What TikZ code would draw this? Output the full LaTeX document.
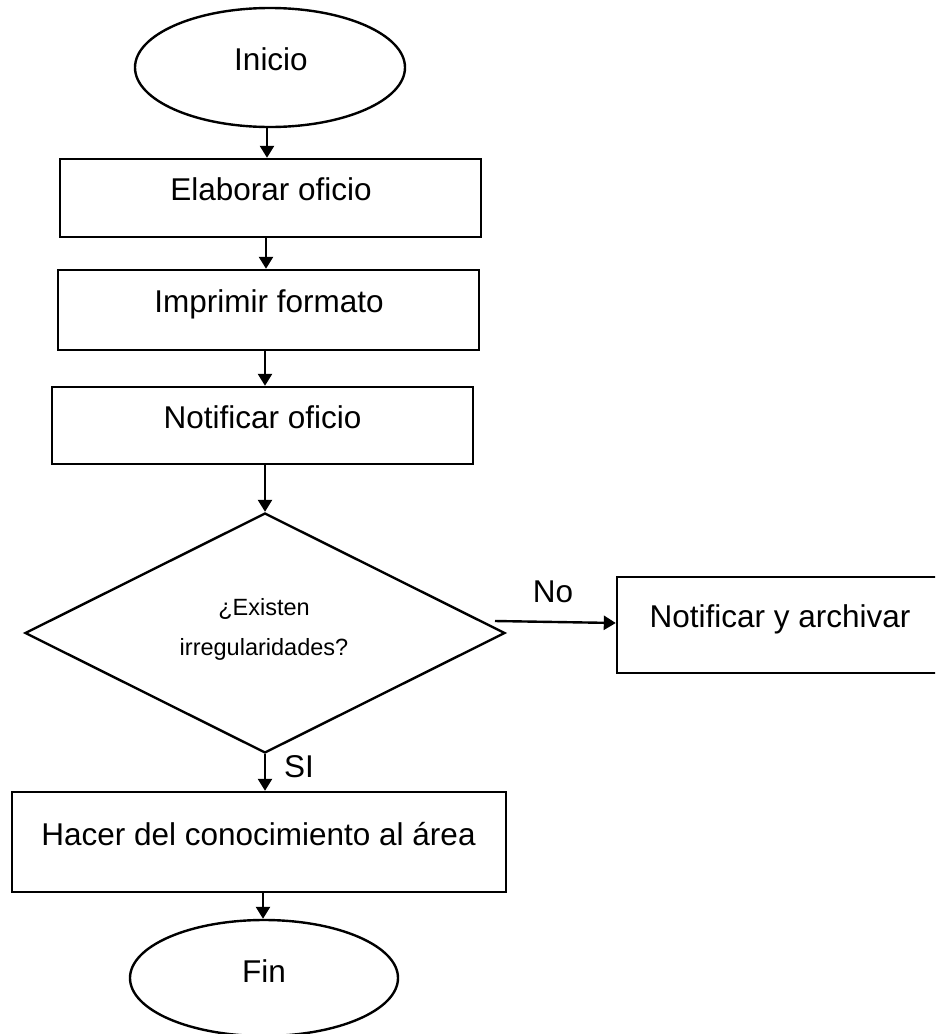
\documentclass[tikz,border=0pt]{standalone}
\usepackage{fontspec}
\setmainfont{Liberation Sans}
\usetikzlibrary{shapes.geometric,arrows.meta}
\begin{document}
\begin{tikzpicture}[x=1pt,y=-1pt,
  shp/.style={draw=black,line width=2.4pt,inner sep=0pt,fill=white},
  procbox/.style={shp,rectangle},
  termin/.style={shp,ellipse},
  decis/.style={shp,diamond},
  big/.style={font=\fontsize{31.5}{36}\selectfont,anchor=base,inner sep=0pt},
  small/.style={font=\fontsize{23.5}{28}\selectfont,anchor=base,inner sep=0pt},
  arr/.style={line width=2.4pt,-{Triangle[length=12pt,width=14pt]}},
  ln/.style={line width=2.4pt}]
\useasboundingbox (0,0) rectangle (935,1034);
\clip (0,0) rectangle (935,1034);
\fill[white] (0,0) rectangle (935,1034);

% shapes
\node[termin,minimum width=270pt,minimum height=119pt] (inicio) at (270,67.5) {};
\node[procbox,minimum width=421pt,minimum height=78pt] (elab) at (270.5,198) {};
\node[procbox,minimum width=421pt,minimum height=80pt] (impr) at (268.5,310) {};
\node[procbox,minimum width=421pt,minimum height=77pt] (notif) at (262.5,425.5) {};
\node[decis,minimum width=480pt,minimum height=240pt] (dec) at (265,633) {};
\node[procbox,minimum width=325pt,minimum height=96pt] (narch) at (779.5,625) {};
\node[procbox,minimum width=494pt,minimum height=100pt] (hacer) at (259,842) {};
\node[termin,minimum width=268pt,minimum height=116pt] (fin) at (264,978) {};

% texts
\node[big] (tinicio) at (271,70) {Inicio};
\node[big] (telab) at (271,200) {Elaborar oficio};
\node[big] (timpr) at (269,312) {Imprimir formato};
\node[big] (tnotif) at (262.5,428) {Notificar oficio};
\node[small] (tq1) at (264,615) {¿Existen};
\node[small] (tq2) at (264,655) {irregularidades?};
\node[big] (tnarch) at (780,627) {Notificar y archivar};
\node[big] (thacer) at (258.5,845) {Hacer del conocimiento al área};
\node[big] (tfin) at (264,982) {Fin};
\node[big] (tno) at (553,602) {No};
\node[big] (tsi) at (299,777) {SI};

% connectors
\draw[arr] (inicio.south -| 267,0) -- (elab.north -| 267,0);
\draw[arr] (elab.south -| 266,0) -- (impr.north -| 266,0);
\draw[arr] (impr.south -| 265,0) -- (notif.north -| 265,0);
\draw[arr] (notif.south -| dec.north) -- (dec.north);
\draw[arr] (dec.south) -- (dec.south |- hacer.north);
\draw[arr] (hacer.south -| 263,0) -- (fin.north -| 263,0);
\coordinate (nostart) at (495,621);
\draw[arr] (nostart) -- (narch.west |- 0,623);
\end{tikzpicture}
\end{document}
